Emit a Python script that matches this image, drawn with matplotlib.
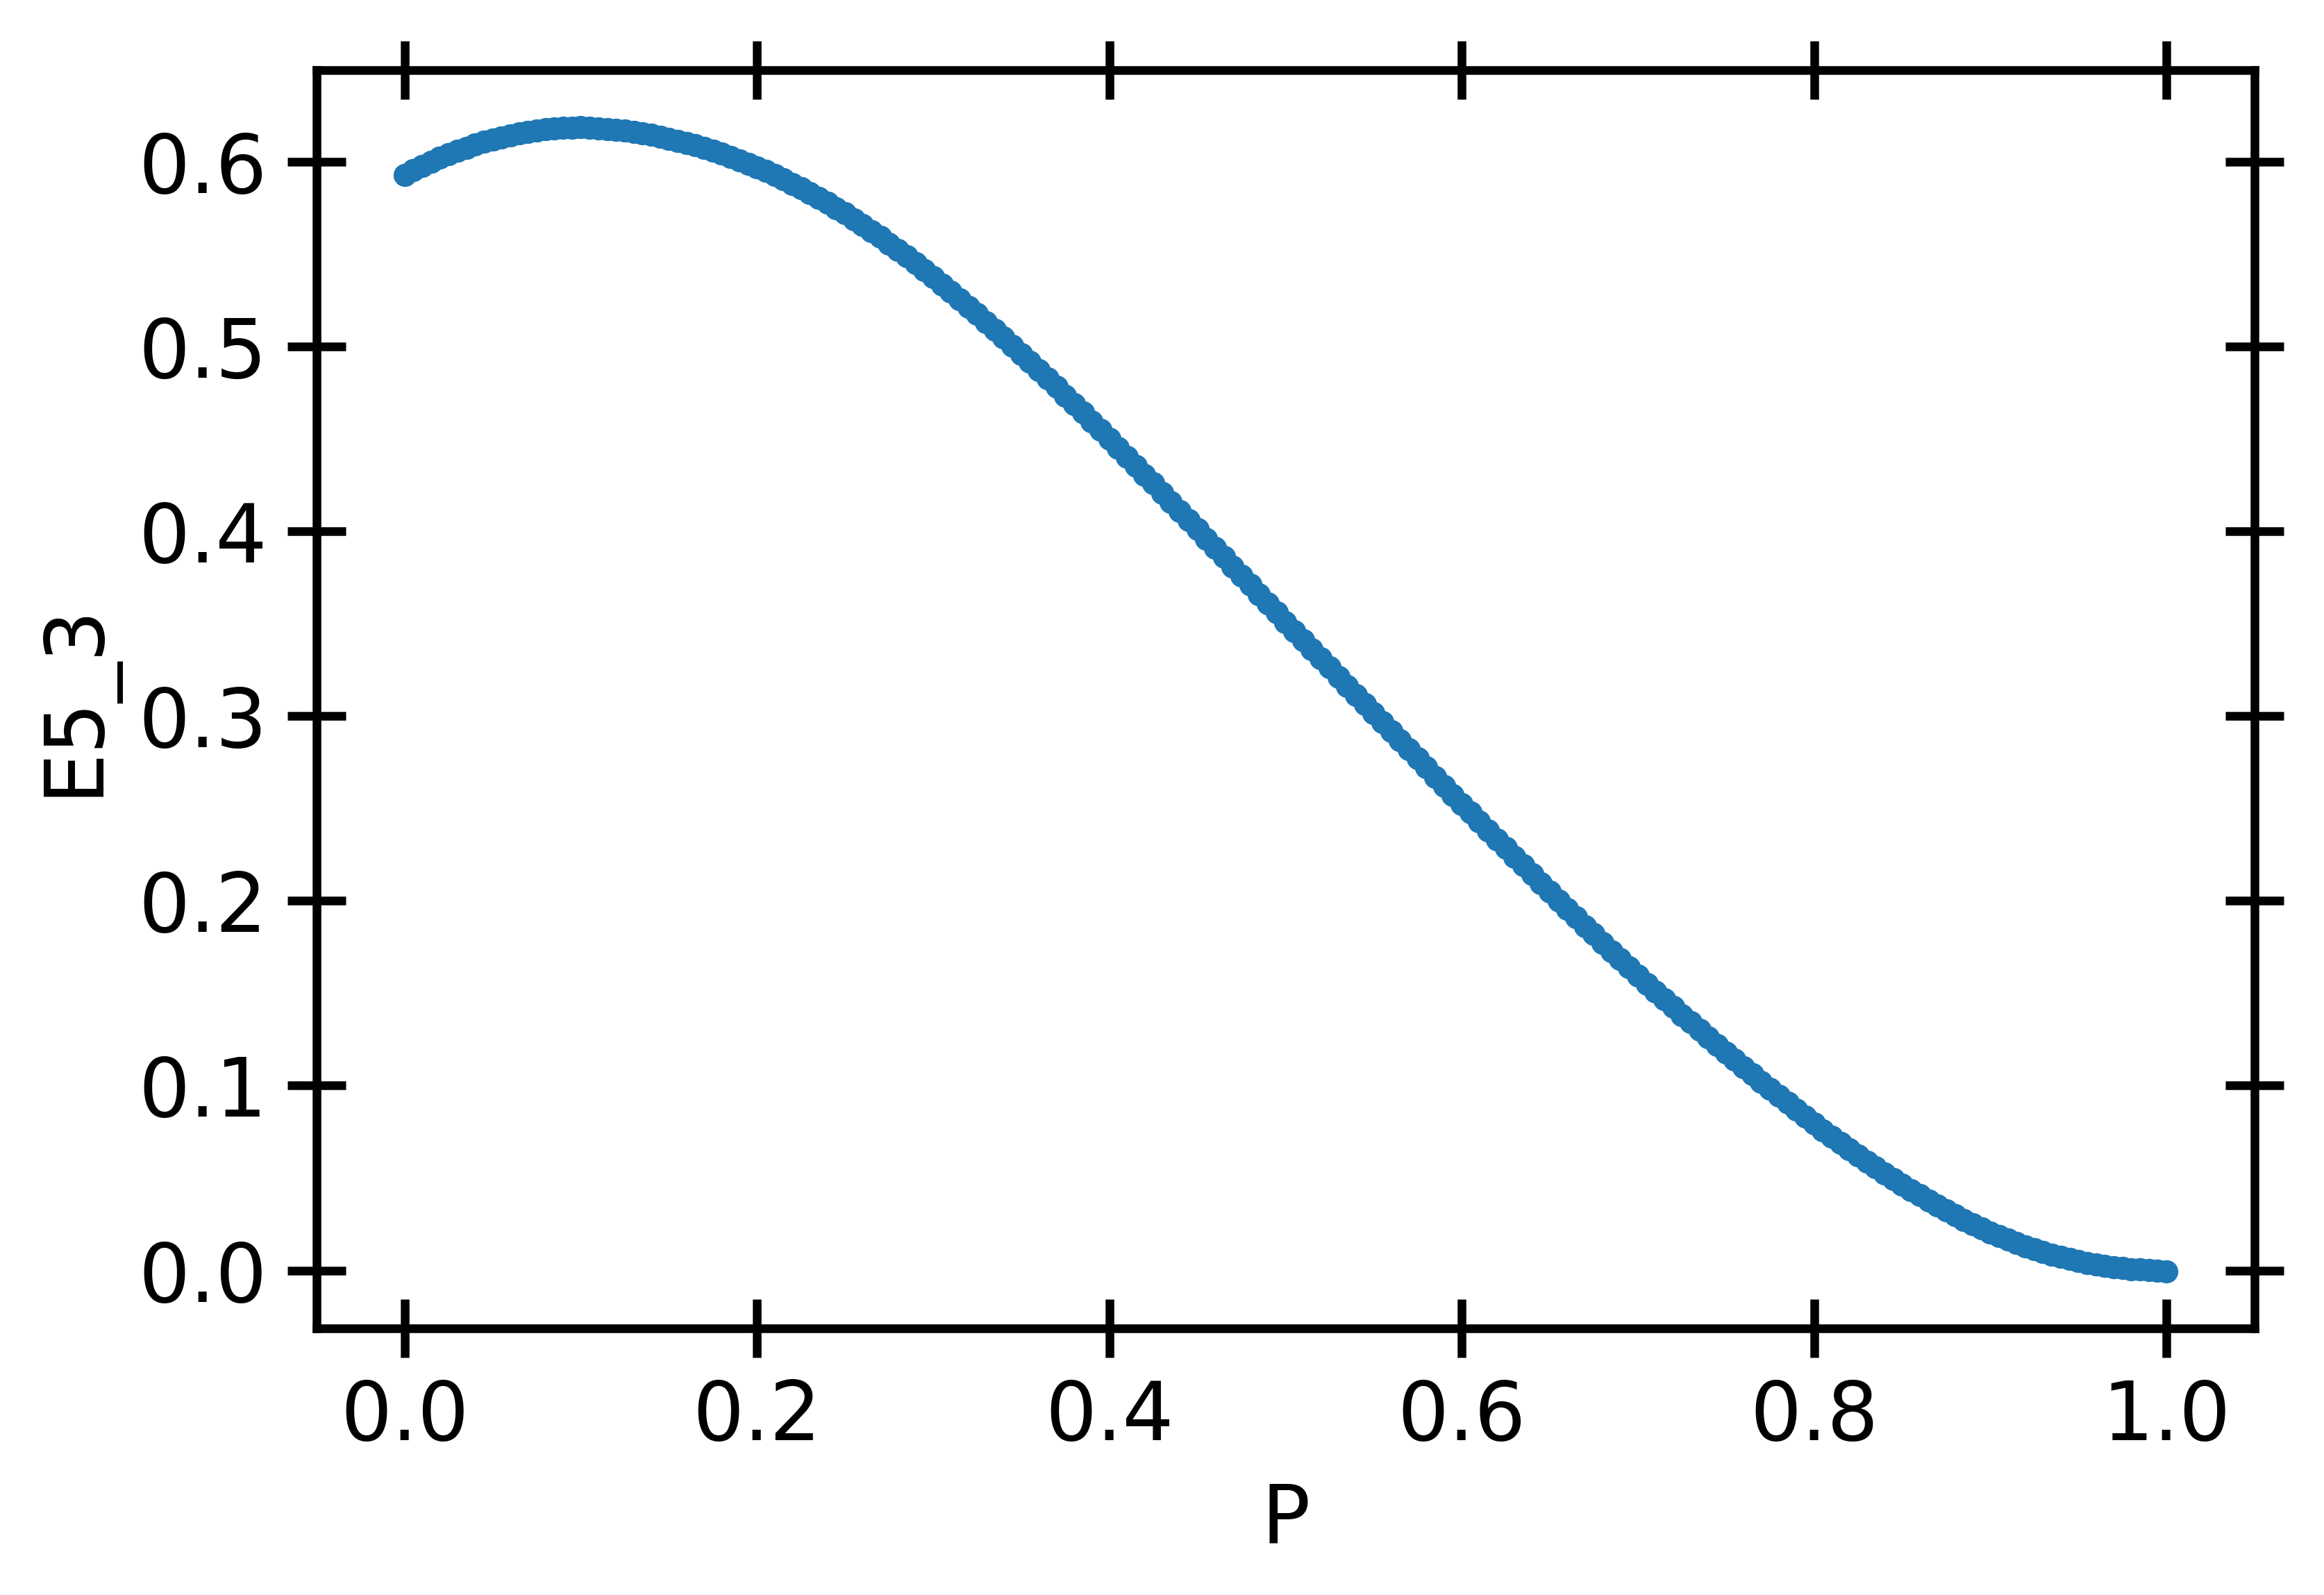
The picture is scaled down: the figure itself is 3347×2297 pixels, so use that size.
import matplotlib

matplotlib.use('Agg')

import matplotlib.pyplot as plt

# valeurs (pas de 0.005)
p = [0.000, 0.005, 0.010, 0.015, 0.020, 0.025, 0.030, 0.035, 0.040, 0.045,
     0.050, 0.055, 0.060, 0.065, 0.070, 0.075, 0.080, 0.085, 0.090, 0.095,
     0.100, 0.105, 0.110, 0.115, 0.120, 0.125, 0.130, 0.135, 0.140, 0.145,
     0.150, 0.155, 0.160, 0.165, 0.170, 0.175, 0.180, 0.185, 0.190, 0.195,
     0.200, 0.205, 0.210, 0.215, 0.220, 0.225, 0.230, 0.235, 0.240, 0.245,
     0.250, 0.255, 0.260, 0.265, 0.270, 0.275, 0.280, 0.285, 0.290, 0.295,
     0.300, 0.305, 0.310, 0.315, 0.320, 0.325, 0.330, 0.335, 0.340, 0.345,
     0.350, 0.355, 0.360, 0.365, 0.370, 0.375, 0.380, 0.385, 0.390, 0.395,
     0.400, 0.405, 0.410, 0.415, 0.420, 0.425, 0.430, 0.435, 0.440, 0.445,
     0.450, 0.455, 0.460, 0.465, 0.470, 0.475, 0.480, 0.485, 0.490, 0.495,
     0.500, 0.505, 0.510, 0.515, 0.520, 0.525, 0.530, 0.535, 0.540, 0.545,
     0.550, 0.555, 0.560, 0.565, 0.570, 0.575, 0.580, 0.585, 0.590, 0.595,
     0.600, 0.605, 0.610, 0.615, 0.620, 0.625, 0.630, 0.635, 0.640, 0.645,
     0.650, 0.655, 0.660, 0.665, 0.670, 0.675, 0.680, 0.685, 0.690, 0.695,
     0.700, 0.705, 0.710, 0.715, 0.720, 0.725, 0.730, 0.735, 0.740, 0.745,
     0.750, 0.755, 0.760, 0.765, 0.770, 0.775, 0.780, 0.785, 0.790, 0.795,
     0.800, 0.805, 0.810, 0.815, 0.820, 0.825, 0.830, 0.835, 0.840, 0.845,
     0.850, 0.855, 0.860, 0.865, 0.870, 0.875, 0.880, 0.885, 0.890, 0.895,
     0.900, 0.905, 0.910, 0.915, 0.920, 0.925, 0.930, 0.935, 0.940, 0.945,
     0.950, 0.955, 0.960, 0.965, 0.970, 0.975, 0.980, 0.985, 0.990, 0.995,
     1.000]

e5_3 = [0.5930, 0.5955, 0.5978, 0.6000, 0.6021, 0.6041, 0.6059, 0.6076, 0.6092, 0.6107,
        0.6120, 0.6132, 0.6143, 0.6153, 0.6161, 0.6169, 0.6175, 0.6179, 0.6183, 0.6185,
        0.6186, 0.6184, 0.6181, 0.6178, 0.6173, 0.6167, 0.6161, 0.6153, 0.6145, 0.6135,
        0.6125, 0.6114, 0.6102, 0.6089, 0.6074, 0.6059, 0.6043, 0.6027, 0.6009, 0.5990,
        0.5970, 0.5949, 0.5928, 0.5905, 0.5881, 0.5857, 0.5831, 0.5805, 0.5778, 0.5749,
        0.5720, 0.5689, 0.5658, 0.5625, 0.5592, 0.5558, 0.5523, 0.5487, 0.5451, 0.5413,
        0.5375, 0.5336, 0.5297, 0.5257, 0.5216, 0.5175, 0.5133, 0.5091, 0.5048, 0.5004,
        0.4960, 0.4916, 0.4871, 0.4826, 0.4781, 0.4735, 0.4689, 0.4642, 0.4595, 0.4548,
        0.4500, 0.4452, 0.4404, 0.4355, 0.4306, 0.4258, 0.4208, 0.4159, 0.4110, 0.4060,
        0.4010, 0.3960, 0.3910, 0.3860, 0.3810, 0.3760, 0.3710, 0.3660, 0.3610, 0.3560,
        0.3510, 0.3461, 0.3411, 0.3362, 0.3312, 0.3263, 0.3213, 0.3164, 0.3114, 0.3065,
        0.3015, 0.2966, 0.2917, 0.2868, 0.2819, 0.2770, 0.2721, 0.2672, 0.2623, 0.2574,
        0.2525, 0.2477, 0.2429, 0.2381, 0.2333, 0.2285, 0.2238, 0.2191, 0.2144, 0.2097,
        0.2050, 0.2003, 0.1957, 0.1910, 0.1864, 0.1819, 0.1773, 0.1728, 0.1684, 0.1639,
        0.1595, 0.1552, 0.1509, 0.1467, 0.1425, 0.1383, 0.1342, 0.1301, 0.1260, 0.1220,
        0.1180, 0.1140, 0.1100, 0.1060, 0.1021, 0.0983, 0.0944, 0.0906, 0.0869, 0.0832,
        0.0795, 0.0759, 0.0724, 0.0690, 0.0656, 0.0622, 0.0590, 0.0558, 0.0526, 0.0495,
        0.0465, 0.0435, 0.0406, 0.0377, 0.0350, 0.0324, 0.0298, 0.0273, 0.0250, 0.0227,
        0.0205, 0.0185, 0.0166, 0.0148, 0.0130, 0.0114, 0.0099, 0.0086, 0.0073, 0.0061,
        0.0050, 0.0040, 0.0032, 0.0024, 0.0017, 0.0012, 0.0007, 0.0004, 0.0001, -0.0002,
        -0.0004]

plt.rcParams['font.family'] = 'DejaVu Sans'
plt.rcParams['font.size'] = 14

fig = plt.figure(figsize=(3347 / 600, 2297 / 600), dpi=600)
ax = fig.add_axes([0.1362, 0.1672, 0.8339, 0.7888])

ax.plot(p, e5_3, '.', color='#1f77b4')

ax.set_xlabel('P')
ax.set_ylabel('E5_3')

ax.tick_params(direction='inout', length=10, width=1.5, top=True, right=True, labelsize=14)
for s in ax.spines.values():
    s.set_linewidth(1.5)

fig.savefig('out.png', dpi=600)
